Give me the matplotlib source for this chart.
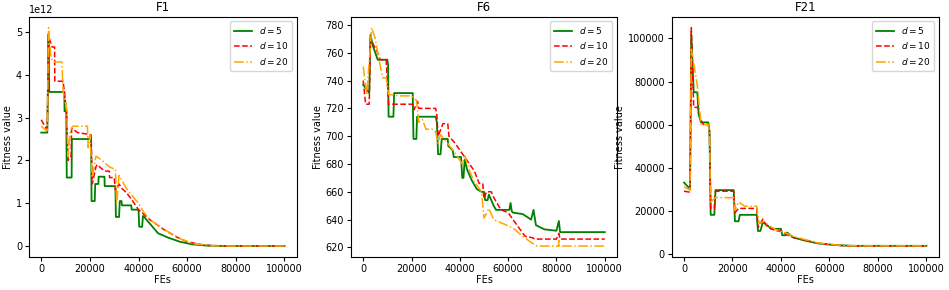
import matplotlib
matplotlib.use("Agg")
import matplotlib.pyplot as plt

# ---- F1 (values in units of 1e12) ----
f1_x5 = [0, 2500, 2600, 3000, 3300, 9500, 9600, 10300, 10500, 12500, 12600, 20500, 20700, 22000, 22200, 23500, 23600,
         26000, 26100, 30500, 30700, 32000, 32300, 33000, 33200, 37000, 37200, 40000, 40300, 41500, 41800, 42000,
         45000, 48000, 52000, 57000, 62000, 68000, 75000, 100000]
f1_y5 = [2.65, 2.65, 3.0, 4.95, 3.6, 3.6, 3.15, 3.15, 1.6, 1.6, 2.5, 2.5, 1.05, 1.05, 1.45, 1.45, 1.62,
         1.62, 1.4, 1.4, 0.68, 0.68, 1.05, 1.05, 0.95, 0.95, 0.85, 0.85, 0.45, 0.45, 0.7, 0.7,
         0.5, 0.3, 0.2, 0.1, 0.04, 0.01, 0.0, 0.0]
f1_x10 = [0, 2000, 2500, 3000, 4500, 5500, 5600, 9000, 9500, 10500, 11000, 12300, 12500, 15000, 20500, 21000, 22500,
          23000, 26000, 28000, 28100, 30000, 30500, 32000, 33000, 35000, 37000, 40000, 42000, 45000, 50000, 56000,
          60000, 67000, 75000, 100000]
f1_y10 = [2.95, 2.75, 2.75, 4.9, 4.65, 4.65, 3.85, 3.85, 3.6, 3.1, 2.0, 2.1, 2.75, 2.65, 2.6, 1.45, 1.85,
          1.9, 1.75, 1.75, 1.6, 1.6, 1.3, 1.45, 1.35, 1.25, 1.1, 0.85, 0.75, 0.6, 0.4, 0.2,
          0.1, 0.02, 0.0, 0.0]
f1_x20 = [0, 2000, 2500, 3000, 4000, 5000, 8500, 9000, 10500, 11000, 12000, 13000, 19000, 19300, 20000, 21000, 22500,
          25000, 28000, 30000, 30500, 31000, 32000, 33500, 35000, 37000, 40000, 42000, 45000, 49000, 53000, 58000,
          63000, 72000, 100000]
f1_y20 = [2.8, 2.7, 2.7, 5.1, 4.4, 4.3, 4.3, 3.6, 3.2, 2.1, 2.7, 2.8, 2.8, 2.3, 2.6, 1.6, 2.1,
          2.0, 1.85, 1.8, 1.8, 1.0, 1.65, 1.5, 1.35, 1.2, 1.0, 0.8, 0.6, 0.45, 0.3, 0.15,
          0.05, 0.0, 0.0]

# ---- F6 ----
f6_x5 = [0, 2500, 3000, 4000, 5000, 6000, 10000, 10300, 10500, 12500, 12800, 20500, 20800, 22000, 22300, 30000,
         30500, 31000, 32000, 32500, 35000, 35200, 37000, 37500, 40500, 41000, 41500, 42000, 43000, 45000, 47000,
         49000, 50000, 50500, 51500, 52000, 54000, 55000, 60500, 61000, 61500, 62000, 66000, 69500, 70500, 71500,
         75000, 80000, 81000, 81500, 100000]
f6_y5 = [737, 731, 773, 765, 760, 755, 755, 751, 714, 714, 731, 731, 698, 698, 714, 714,
         710, 687, 687, 698, 698, 693, 690, 685, 685, 670, 670, 683, 676, 668, 662,
         660, 660, 654, 654, 658, 650, 647, 647, 652, 646, 645, 644, 640, 647, 636,
         633, 632, 639, 631, 631]
f6_x10 = [0, 1000, 2500, 3000, 4500, 6000, 7000, 9500, 10500, 20500, 21000, 22500, 23000, 30000, 30500, 31000,
          33000, 35000, 35500, 38000, 40000, 42000, 46000, 48000, 49500, 50000, 51000, 53000, 54000, 57000, 60000,
          62000, 67000, 70000, 71000, 80000, 81000, 81500, 100000]
f6_y10 = [740, 723, 723, 770, 765, 760, 755, 755, 723, 723, 719, 725, 720, 720, 715, 700,
          709, 709, 700, 695, 690, 685, 675, 666, 666, 655, 660, 660, 656, 647, 645,
          640, 628, 627, 626, 626, 630, 626, 626]
f6_x20 = [0, 1500, 3500, 5000, 6000, 8000, 9500, 10500, 15000, 20000, 21000, 22000, 23000, 24500, 26000, 29000,
          30000, 31000, 32000, 34000, 38000, 41000, 42000, 44000, 46000, 49000, 50000, 52000, 54000, 58000, 62000,
          66000, 70000, 72000, 80800, 81000, 81200, 100000]
f6_y20 = [750, 730, 778, 770, 760, 742, 742, 730, 729, 729, 727, 726, 710, 712, 705, 705,
          703, 695, 701, 697, 688, 680, 686, 675, 667, 660, 641, 648, 640, 637, 634,
          628, 623, 621, 621, 625, 621, 621]

# ---- F21 ----
f21_x5 = [0, 2500, 3000, 4000, 5500, 6000, 7000, 10000, 10500, 11000, 12500, 13000, 20500, 21000, 22500, 23000,
          30000, 30500, 31500, 32500, 34000, 36000, 40000, 40500, 42000, 42500, 45000, 50000, 55000, 60000, 65000,
          70000, 100000]
f21_y5 = [33000, 30000, 102000, 75000, 75000, 65000, 61000, 61000, 57000, 18000, 18000, 29500, 29500, 15000, 15000, 18000,
          18000, 10500, 10500, 14500, 13500, 11500, 11500, 8500, 8500, 9800, 7500, 6000, 4800, 4200, 3800,
          3600, 3600]
f21_x10 = [0, 2500, 3000, 4000, 5500, 6000, 7000, 8000, 10000, 10500, 11000, 12500, 13000, 20500, 21000, 22500,
           30000, 30500, 32500, 34000, 36000, 38000, 40000, 42000, 45000, 50000, 55000, 60000, 65000, 70000, 100000]
f21_y10 = [29000, 28500, 105000, 68000, 68000, 67000, 62000, 60000, 60000, 57000, 21000, 21000, 29000, 29000, 19000, 21000,
           21000, 12000, 16000, 13000, 11500, 10500, 10500, 9000, 7500, 6200, 4800, 4100, 3700, 3500, 3500]
f21_x20 = [0, 2500, 3000, 4500, 5500, 7000, 10000, 10500, 11000, 13000, 20500, 21000, 22500, 25000, 30000, 31000,
           33000, 35000, 38000, 42000, 45000, 50000, 55000, 60000, 65000, 70000, 100000]
f21_y20 = [31000, 29500, 95000, 85000, 78000, 60000, 60000, 56000, 24000, 26000, 26000, 20000, 24000, 22000, 22000, 14000,
           15000, 13000, 11000, 9500, 8000, 6500, 5000, 4300, 3800, 3600, 3600]

panels = [
    ("F1", (f1_x5, f1_y5), (f1_x10, f1_y10), (f1_x20, f1_y20), 1e12),
    ("F6", (f6_x5, f6_y5), (f6_x10, f6_y10), (f6_x20, f6_y20), 1),
    ("F21", (f21_x5, f21_y5), (f21_x10, f21_y10), (f21_x20, f21_y20), 1),
]
rects = [[0.0306, 0.114, 0.282, 0.828],
         [0.370, 0.114, 0.280, 0.828],
         [0.708, 0.114, 0.281, 0.828]]

plt.rcParams["font.size"] = 7

fig = plt.figure(figsize=(9.49, 2.9), dpi=100)
for rect, (title, s5, s10, s20, scale) in zip(rects, panels):
    ax = fig.add_axes(rect)
    ax.plot(s5[0], [v * scale for v in s5[1]], color="green", linestyle="-", lw=1.3, label="$d=5$")
    ax.plot(s10[0], [v * scale for v in s10[1]], color="red", linestyle="--", lw=1.1, label="$d=10$")
    ax.plot(s20[0], [v * scale for v in s20[1]], color="orange", linestyle="-.", lw=1.1, label="$d=20$")
    ax.set_title(title, fontsize=8.5, pad=4)
    ax.set_xlabel("FEs", fontsize=7, labelpad=1)
    ax.set_ylabel("Fitness value", fontsize=7, labelpad=2)
    ax.tick_params(labelsize=7, length=3, pad=2)
    ax.set_xticks([0, 20000, 40000, 60000, 80000, 100000])
    ax.legend(loc="upper right", fontsize=6.5)

fig.savefig("out.png", dpi=100)
